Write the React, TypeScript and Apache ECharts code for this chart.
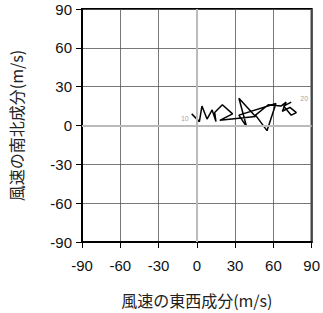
import React, { useEffect, useRef } from "react";
import * as echarts from "echarts";

const uWind = [-4, 2, 4, 6, 8, 12, 15, 14, 20, 28, 18, 46, 33, 39, 33, 62, 55, 46, 56, 66, 70, 67, 73, 78, 74, 68, 74];
const vWind = [9, 3, 15, 10, 5, 12, 3, 10, 16, 9, 4, 7, 21, -1, 8, 17, -4, 8, 16, 15, 18, 11, 14, 10, 8, 15, 18];
const axisTicks = [-90, -60, -30, 0, 30, 60, 90];
const startLabel = "10";
const endLabel = "20";
const xName = "風速の東西成分(m/s)";
const yName = "風速の南北成分(m/s)";

export default function App() {
  const ref = useRef<HTMLDivElement>(null);
  useEffect(() => {
    if (!ref.current) return;
    const chart = echarts.init(ref.current, null, { renderer: "svg" });
    const data = uWind.map((u, i) => [u, vWind[i]]);
    const n = data.length;
    const font = "'Liberation Sans', Arial, sans-serif";
    const axisCommon = {
      min: axisTicks[0],
      max: axisTicks[axisTicks.length - 1],
      interval: 30,
      axisLine: { show: true, onZero: false, lineStyle: { color: "#000", width: 2 } },
      axisTick: { show: true, inside: false, length: 6, lineStyle: { color: "#000", width: 1 } },
      splitLine: { show: true, lineStyle: { color: "#555", width: 0.8 } },
      axisLabel: { color: "#111", fontSize: 15, fontFamily: font },
      nameLocation: "middle" as const,
      nameTextStyle: { color: "#222", fontSize: 16, fontFamily: "'Noto Sans CJK JP', sans-serif" },
    };
    chart.setOption({
      animation: false,
      grid: { left: 79, right: 9, top: 9, bottom: 69, show: true, borderColor: "#000", borderWidth: 2, backgroundColor: "transparent" },
      xAxis: { ...axisCommon, type: "value", name: xName, nameGap: 50, axisLabel: { ...axisCommon.axisLabel, margin: 16 } },
      yAxis: { ...axisCommon, type: "value", name: yName, nameGap: 58, axisLabel: { ...axisCommon.axisLabel, margin: 10 } },
      series: [
        {
          type: "line",
          data,
          symbol: "none",
          lineStyle: { color: "#000", width: 1.5 },
          markLine: {
            silent: true,
            symbol: "none",
            label: { show: false },
            lineStyle: { color: "#bbb", width: 2, type: "solid" },
            data: [{ xAxis: 0 }, { yAxis: 0 }],
          },
          z: 3,
        },
        {
          type: "scatter",
          data: [
            { value: data[0], label: { formatter: startLabel, position: "left", offset: [2, 5] } },
            { value: data[n - 1], label: { formatter: endLabel, position: "right", offset: [4, -4] } },
          ],
          symbolSize: 0,
          label: { show: true, color: "#888", fontSize: 7, fontFamily: font },
          z: 4,
        },
      ],
    });
    return () => chart.dispose();
  }, []);
  return <div ref={ref} style={{ position: "absolute", left: 0, top: 0, width: 323, height: 313 }} />;
}
